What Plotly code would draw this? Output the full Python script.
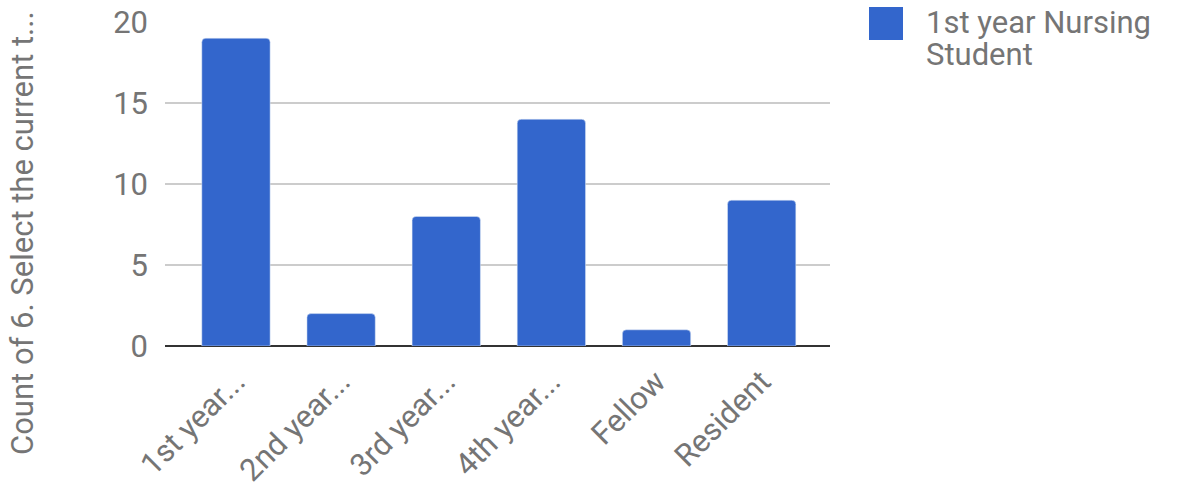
import plotly.graph_objects as go

categories = ["1st year...", "2nd year...", "3rd year...", "4th year...", "Fellow", "Resident"]
counts = [19, 2, 8, 14, 1, 9]
series_name = "1st year Nursing<br>Student"
y_title = "Count of 6. Select the current t..."
y_ticks = [0, 5, 10, 15, 20]

BLUE = "#3366CC"
GRAY = "#757575"
FONT = "Roboto"

fig = go.Figure()
fig.add_trace(go.Bar(
    x=list(range(len(categories))), y=counts, marker_color=BLUE,
    width=0.65, showlegend=False, hoverinfo="x+y",
))

W, H = 1183, 483
ml, mr, mt, mb = 165, 353, 22, 137

fig.update_layout(
    width=W, height=H,
    margin=dict(l=ml, r=mr, t=mt, b=mb, pad=0, autoexpand=False),
    paper_bgcolor="white", plot_bgcolor="white",
    font=dict(family=FONT, color=GRAY, size=31),
    barcornerradius=4,
    xaxis=dict(
        range=[-0.675, 5.65], tickmode="array",
        tickvals=list(range(len(categories))), ticktext=categories,
        tickangle=-45, showgrid=False, zeroline=False, showline=False,
        tickfont=dict(size=31, color=GRAY, family=FONT),
        ticks="", fixedrange=True, automargin=False, ticklabelstandoff=10,
    ),
    yaxis=dict(
        range=[0, 20], tickvals=y_ticks, showgrid=True, gridcolor="#cccccc",
        gridwidth=2, zeroline=True, zerolinecolor="#333333", zerolinewidth=2,
        tickfont=dict(size=31, color=GRAY, family=FONT),
        ticklabelstandoff=16, showline=False, ticks="", automargin=False,
    ),
)

# y-axis title
fig.add_annotation(
    text=y_title, textangle=-90, xref="paper", yref="paper",
    x=0, y=(346 - 233) / 324, xshift=-143, showarrow=False,
    font=dict(size=31, color=GRAY, family=FONT),
    xanchor="center", yanchor="middle",
)

# legend (drawn manually for a large square key)
pw = W - ml - mr
ph = H - mt - mb
def px_x(p):
    return (p - ml) / pw
def px_y(p):
    return (H - mb - p) / ph

fig.add_shape(
    type="rect", xref="paper", yref="paper",
    x0=px_x(869), x1=px_x(903), y0=px_y(40), y1=px_y(7),
    fillcolor=BLUE, line=dict(width=0),
)
for i, line in enumerate(series_name.split("<br>")):
    fig.add_annotation(
        text=line, xref="paper", yref="paper",
        x=px_x(924), y=px_y(22 + 32 * i), showarrow=False,
        xanchor="left", yanchor="middle", align="left",
        font=dict(size=31, color=GRAY, family=FONT),
    )

fig.write_html(
    "out.html",
    config={"displayModeBar": False},
    post_script="document.body.style.margin='0px';document.body.style.overflow='hidden';",
)
